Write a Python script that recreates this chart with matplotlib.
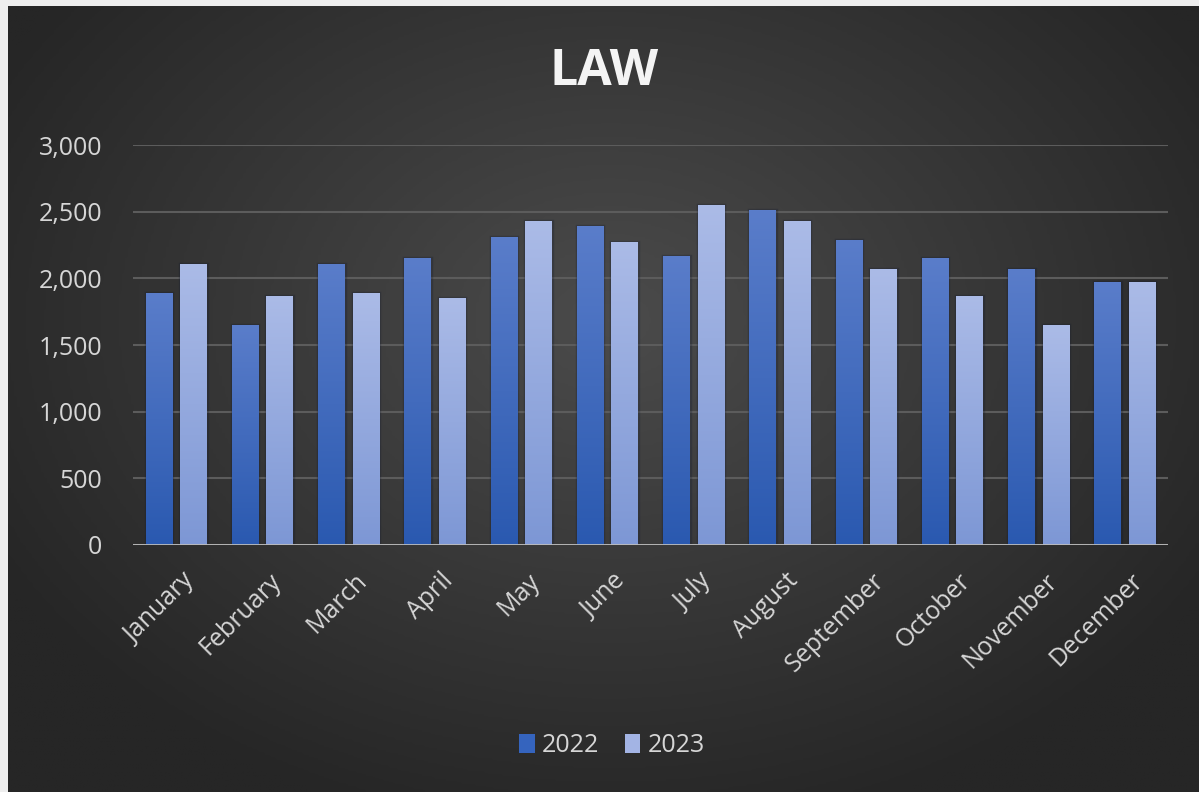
import numpy as np
import matplotlib
matplotlib.use('Agg')
import matplotlib.pyplot as plt
from matplotlib.colors import LinearSegmentedColormap
from matplotlib.patches import Patch
import matplotlib.transforms as mtransforms

# Data
months = ['January', 'February', 'March', 'April', 'May', 'June', 'July',
          'August', 'September', 'October', 'November', 'December']
law_2022 = [1890, 1650, 2110, 2150, 2310, 2390, 2170, 2510, 2290, 2150, 2070, 1970]
law_2023 = [2110, 1870, 1890, 1850, 2430, 2270, 2550, 2430, 2070, 1870, 1650, 1970]
series_names = ['2022', '2023']
y_ticks = [0, 500, 1000, 1500, 2000, 2500, 3000]

plt.rcParams['font.family'] = ['Open Sans', 'DejaVu Sans']
text_col = '#d6d6d6'

W, H = 1199, 792
fig = plt.figure(figsize=(W / 100, H / 100), dpi=100)
fig.patch.set_facecolor('#eeeeee')

# Dark chart area with a radial gradient
bg = fig.add_axes([8 / W, 0, 1 - 8 / W, 1 - 6 / H], zorder=-5)
gx, gy = np.meshgrid(np.linspace(8, W, 400), np.linspace(6, H, 300))
d = np.sqrt(((gx - 610) / 700) ** 2 + ((gy - 320) / 520) ** 2)
d = np.clip(d, 0, 1)
bg_cmap = LinearSegmentedColormap.from_list('bg', ['#4b4b4b', '#262626'])
bg.imshow(d, cmap=bg_cmap, aspect='auto', extent=[0, 1, 0, 1], origin='upper')
bg.axis('off')

ax = fig.add_axes([133 / W, 1 - 545 / H, (1168 - 133) / W, 400 / H])
ax.set_facecolor('none')

x = np.arange(len(months))
bw = 0.31
off = 0.2

# soft shadow around bars
for vals, sgn in [(law_2022, -1), (law_2023, 1)]:
    ax.bar(x + sgn * off, vals, width=bw, color='none',
           edgecolor=(0.06, 0.09, 0.18, 0.25), linewidth=2.5, zorder=2)

bars22 = ax.bar(x - off, law_2022, width=bw, color='#3a66bf', zorder=3)
bars23 = ax.bar(x + off, law_2023, width=bw, color='#9fb2e2', zorder=3)


def gradient_fill(bars, bottom_col, top_col):
    grad = np.linspace(0, 1, 256).reshape(-1, 1)
    cmap = LinearSegmentedColormap.from_list('g', [bottom_col, top_col])
    for b in bars:
        bx, by = b.get_xy()
        im = ax.imshow(grad, cmap=cmap, origin='lower', aspect='auto',
                       extent=[bx, bx + b.get_width(), by, by + b.get_height()],
                       zorder=3.5)
        im.set_clip_path(b)


gradient_fill(bars22, '#2a59b0', '#5a7dca')
gradient_fill(bars23, '#7d97d5', '#abbbe7')

ax.set_xlim(-0.5, len(months) - 0.5)
ax.set_ylim(0, 3000)
ax.set_yticks(y_ticks)
ax.set_yticklabels(['{:,.0f}'.format(t) for t in y_ticks])
ax.yaxis.grid(True, color='#5c5c5c', linewidth=1.5, zorder=0)
ax.set_axisbelow(True)
ax.axhline(0, color='#bdbdbd', linewidth=2, zorder=5)
for s in ax.spines.values():
    s.set_visible(False)

ax.set_xticks(x)
ax.set_xticklabels(months, rotation=45, ha='right', rotation_mode='anchor')
ax.tick_params(axis='x', length=0, pad=17, labelsize=18, labelcolor=text_col)
ax.tick_params(axis='y', length=0, pad=22, labelsize=18, labelcolor=text_col)
shift = mtransforms.ScaledTranslation(6 / 100, 0, fig.dpi_scale_trans)
for lbl in ax.get_xticklabels():
    lbl.set_transform(lbl.get_transform() + shift)

fig.text(604 / W, 1 - 72 / H, 'LAW', ha='center', va='center',
         fontsize=36, fontweight='bold', color='#f4f4f4')

handles = [Patch(facecolor='#3564be'), Patch(facecolor='#a3b4e4')]
fig.legend(handles, series_names, loc='center', ncol=2,
           bbox_to_anchor=(612 / W, 1 - 746 / H), frameon=False,
           fontsize=18, labelcolor=text_col, handlelength=0.62,
           handleheight=0.78, handletextpad=0.3, columnspacing=1.0)

fig.savefig('out.png', dpi=100, facecolor=fig.get_facecolor())
